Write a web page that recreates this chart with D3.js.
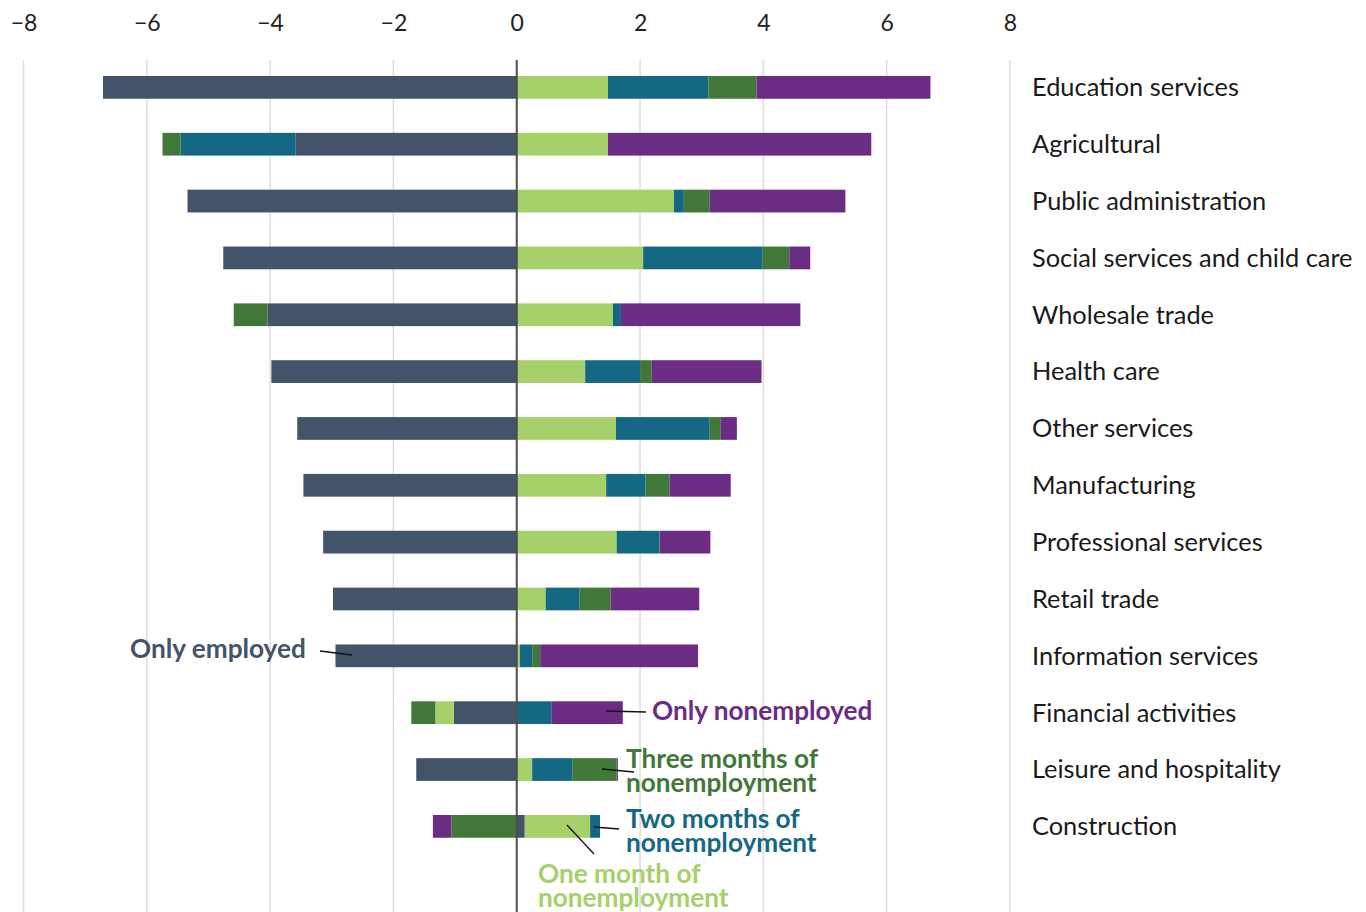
<!DOCTYPE html>
<html><head><meta charset="utf-8">
<script src="https://cdn.jsdelivr.net/npm/d3@7"></script>
<style>body{margin:0;background:#fff;}svg{display:block;font-family:Lato,"Noto Sans",sans-serif;}</style>
</head><body>
<svg id="c" width="1366" height="912"></svg>
<script>
const categories = ["Education services","Agricultural","Public administration","Social services and child care","Wholesale trade","Health care","Other services","Manufacturing","Professional services","Retail trade","Information services","Financial activities","Leisure and hospitality","Construction"];
const onlyEmployed   = [-6.71,-3.585,-5.34,-4.76,-4.04,-3.98,-3.56,-3.46,-3.14,-2.98,-2.94,-1.02,-1.63, 0.13];
const oneMonth       = [ 1.48, 1.48, 2.55, 2.05, 1.56, 1.11, 1.61, 1.45, 1.62, 0.47, 0.05,-0.30, 0.25, 1.06];
const twoMonths      = [ 1.63,-1.87, 0.16, 1.94, 0.13, 0.89, 1.52, 0.64, 0.69, 0.55, 0.20, 0.56, 0.65, 0.16];
const threeMonths    = [ 0.78,-0.29, 0.42, 0.43,-0.55, 0.19, 0.18, 0.39, 0.01, 0.50, 0.13,-0.39, 0.72,-1.06];
const onlyNonemployed= [ 2.82, 4.27, 2.20, 0.34, 2.91, 1.78, 0.26, 0.99, 0.82, 1.44, 2.56, 1.16, 0.02,-0.30];
const seriesKeys = ["onlyEmployed","oneMonth","twoMonths","threeMonths","onlyNonemployed"];
const seriesColors = ["#43546a","#a6d069","#156884","#42773a","#6b2c83"];
const tickValues = [-8,-6,-4,-2,0,2,4,6,8];

const table = categories.map((c,i)=>({category:c, onlyEmployed:onlyEmployed[i], oneMonth:oneMonth[i], twoMonths:twoMonths[i], threeMonths:threeMonths[i], onlyNonemployed:onlyNonemployed[i]}));

const svg = d3.select("#c");
const x = d3.scaleLinear().domain([-8,8]).range([23.5,1010]);
const y = d3.scaleBand().domain(categories).range([76,837.75]).paddingInner(0.6).paddingOuter(0);

// gridlines
svg.append("g").selectAll("line").data(tickValues.filter(d=>d!==0)).join("line")
  .attr("x1",d=>x(d)).attr("x2",d=>x(d)).attr("y1",60).attr("y2",912)
  .attr("stroke","#dddddd").attr("stroke-width",1.5);

// axis labels
const axis = d3.axisTop(x).tickValues(tickValues).tickSize(0).tickPadding(0)
  .tickFormat(d=>d<0?"\u2212"+Math.abs(d):String(d));
const ag = svg.append("g").attr("transform","translate(0,31)").call(axis);
ag.select(".domain").remove();
ag.selectAll("text").attr("font-size",23).attr("fill","#222").attr("font-family","Lato,'Noto Sans',sans-serif");

const stack = d3.stack().keys(seriesKeys).offset(d3.stackOffsetDiverging);
const layers = stack(table);

svg.append("g").selectAll("g").data(layers).join("g")
  .attr("fill",(d,i)=>seriesColors[i])
  .selectAll("rect").data(d=>d).join("rect")
  .attr("x",d=>x(Math.min(d[0],d[1])))
  .attr("width",d=>Math.abs(x(d[1])-x(d[0])))
  .attr("y",d=>y(d.data.category))
  .attr("height",y.bandwidth());

// zero line
svg.append("line").attr("x1",x(0)).attr("x2",x(0)).attr("y1",60).attr("y2",912)
  .attr("stroke","#4d4d4d").attr("stroke-width",2);

// category labels
svg.append("g").selectAll("text").data(categories).join("text")
  .attr("x",1032).attr("y",d=>y(d)+y.bandwidth()/2).attr("dy","0.35em")
  .attr("font-size",25.4).attr("fill","#1a1a1a").text(d=>d);

// annotations
const ann = svg.append("g").attr("font-weight","bold").attr("font-size",26.2);
function lbl(lines,x0,y0,color){
  lines.forEach((t,i)=>ann.append("text").attr("x",x0).attr("y",y0+i*24).attr("fill",color).text(t));
}
function lead(x1,y1,x2,y2){
  svg.append("line").attr("x1",x1).attr("y1",y1).attr("x2",x2).attr("y2",y2).attr("stroke","#111").attr("stroke-width",1.3);
}
lbl(["Only employed"],130,658,seriesColors[0]);
lead(320,651,352,655);
lbl(["Only nonemployed"],652,720,seriesColors[4]);
lead(606,711,646,712);
lbl(["Three  months of","nonemployment"],626,768,seriesColors[3]);
lead(602,769,634,772);
lbl(["Two months of","nonemployment"],626,828,seriesColors[2]);
lead(594,827,619,829);
lbl(["One month of","nonemployment"],538,883,seriesColors[1]);
lead(567,825,594,854);
</script>
</body></html>
